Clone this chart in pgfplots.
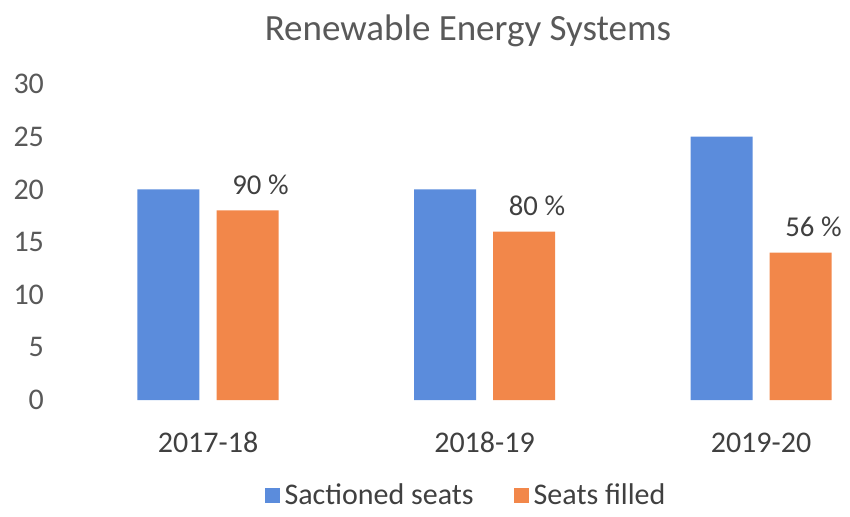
\documentclass[border=0pt]{standalone}
\usepackage{fontspec}
\setmainfont{Carlito}
\usepackage{pgfplots}
\pgfplotsset{compat=1.18}
\definecolor{barblue}{HTML}{5B8CDC}
\definecolor{barorange}{HTML}{F2874A}
\definecolor{txtgray}{HTML}{595959}
\definecolor{txtdark}{HTML}{404040}
\begin{document}
\begin{tikzpicture}
\useasboundingbox (-83.2pt,-46.4pt) rectangle (256.8pt,160pt);
\begin{axis}[
  anchor=origin,
  x=110.6pt, y=4.212pt,
  ybar=6.8pt, bar width=24.8pt,
  xmin=-0.5, xmax=2.5, ymin=0, ymax=30,
  xtick=data, xticklabels={2017-18,2018-19,2019-20},
  ytick={0,5,...,30},
  axis line style={draw=none},
  tick style={draw=none},
  /pgf/number format/assume math mode=true,
  ticklabel style={font=\fontsize{12}{14}\selectfont, text=txtgray},
  yticklabel style={xshift=-6.8pt},
  xticklabel style={anchor=base, yshift=-16.6pt, text=txtdark},
  legend columns=2,
  legend style={draw=none, at={(0.4795,-0.303)}, anchor=center,
    font=\fontsize{12}{14}\selectfont, text=txtdark,
    /tikz/every even column/.append style={column sep=14pt}},
  legend image code/.code={\draw[#1, draw=none] (0pt,-3pt) rectangle (6pt,3pt);},
  clip=false,
]
\addplot[fill=barblue, draw=none] coordinates {(0,20) (1,20) (2,25)};
\addlegendentry{Sactioned seats}
\addplot[fill=barorange, draw=none,
  nodes near coords, point meta=explicit symbolic,
  nodes near coords style={font=\fontsize{11.5}{13}\selectfont, text=txtdark,
    anchor=south, xshift=5.2pt, yshift=2.8pt}]
  coordinates {(0,18) [90 \%] (1,16) [80 \%] (2,14) [56 \%]};
\addlegendentry{Seats filled}
\node[anchor=base, font=\fontsize{14.8}{17}\selectfont, text=txtgray]
  at (rel axis cs:0.48,1.139) {Renewable Energy Systems};
\end{axis}
\end{tikzpicture}
\end{document}
